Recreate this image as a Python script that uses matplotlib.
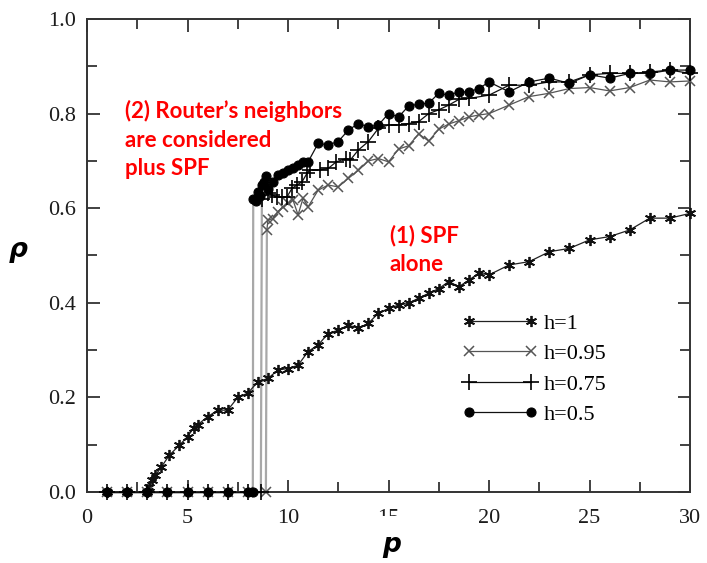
import matplotlib
matplotlib.use("Agg")
import matplotlib.pyplot as plt
from matplotlib.patches import Rectangle
from matplotlib.ticker import MultipleLocator
import numpy as np

# ---------------- data ----------------
x_h1 = [1, 2, 3, 3.1, 3.25, 3.4, 3.7, 4.1, 4.6, 5.0, 5.3, 5.5, 6.0, 6.5, 7.0, 7.5, 8.0, 8.5,
        9.0, 9.5, 10, 10.5, 11, 11.5, 12, 12.5, 13, 13.5, 14, 14.5, 15, 15.5, 16, 16.5, 17,
        17.5, 18, 18.5, 19, 19.5, 20, 21, 22, 23, 24, 25, 26, 27, 28, 29, 30]
y_h1 = [0, 0, 0, 0.011, 0.025, 0.035, 0.053, 0.078, 0.099, 0.117, 0.135, 0.142, 0.159, 0.173,
        0.173, 0.200, 0.209, 0.233, 0.240, 0.258, 0.261, 0.268, 0.297, 0.311, 0.335, 0.342,
        0.353, 0.346, 0.357, 0.378, 0.388, 0.395, 0.399, 0.410, 0.420, 0.430, 0.445, 0.434,
        0.448, 0.463, 0.459, 0.480, 0.487, 0.508, 0.515, 0.533, 0.540, 0.554, 0.579, 0.579, 0.589]

x_h095 = [1, 2, 3, 4, 5, 6, 7, 8, 8.9, 8.95, 9.0, 9.25, 9.5, 9.75, 10.0, 10.25, 10.5, 10.75,
          11.0, 11.5, 12.0, 12.5, 13.0, 13.5, 14.0, 14.5, 15.0, 15.5, 16.0, 16.5, 17.0, 17.5,
          18.0, 18.5, 19.0, 19.5, 20, 21, 22, 23, 24, 25, 26, 27, 28, 29, 30]
y_h095 = [0, 0, 0, 0, 0, 0, 0, 0, 0, 0.554, 0.575, 0.578, 0.593, 0.603, 0.610, 0.617, 0.586,
          0.621, 0.603, 0.638, 0.649, 0.645, 0.663, 0.680, 0.700, 0.705, 0.698, 0.725, 0.732,
          0.757, 0.742, 0.767, 0.778, 0.785, 0.793, 0.797, 0.800, 0.818, 0.836, 0.843, 0.853,
          0.855, 0.848, 0.855, 0.871, 0.867, 0.869]

x_h075 = [1, 2, 3, 4, 5, 6, 7, 8, 8.65, 8.7, 9.0, 9.2, 9.45, 9.7, 9.95, 10.2, 10.45, 10.7,
          10.95, 11.1, 11.6, 12.0, 12.4, 12.9, 13.1, 13.5, 14.0, 14.5, 15.0, 15.5, 16.0, 16.5,
          17.0, 17.5, 18.0, 18.5, 19.0, 20, 21, 22, 23, 24, 25, 26, 27, 28, 29, 30]
y_h075 = [0, 0, 0, 0, 0, 0, 0, 0, 0, 0.620, 0.632, 0.628, 0.624, 0.624, 0.624, 0.642, 0.649,
          0.656, 0.674, 0.681, 0.681, 0.684, 0.698, 0.705, 0.702, 0.723, 0.741, 0.769, 0.776,
          0.776, 0.779, 0.783, 0.800, 0.808, 0.818, 0.830, 0.832, 0.839, 0.860, 0.860, 0.867,
          0.867, 0.882, 0.885, 0.885, 0.888, 0.892, 0.885]

x_h05 = [1, 2, 3, 4, 5, 6, 7, 8, 8.25, 8.27, 8.4, 8.5, 8.6, 8.7, 8.8, 8.9, 9.0, 9.25, 9.5,
         9.75, 10.0, 10.25, 10.5, 10.75, 11.0, 11.5, 12.0, 12.5, 13.0, 13.5, 14.0, 14.5, 15.0,
         15.5, 16.0, 16.5, 17.0, 17.5, 18.0, 18.5, 19.0, 19.5, 20, 21, 22, 23, 24, 25, 26, 27,
         28, 29, 30]
y_h05 = [0, 0, 0, 0, 0, 0, 0, 0, 0, 0.619, 0.615, 0.635, 0.625, 0.648, 0.655, 0.668, 0.640,
         0.655, 0.670, 0.674, 0.681, 0.684, 0.691, 0.698, 0.698, 0.737, 0.734, 0.741, 0.765,
         0.779, 0.772, 0.776, 0.800, 0.793, 0.816, 0.820, 0.822, 0.843, 0.839, 0.846, 0.846,
         0.853, 0.867, 0.846, 0.867, 0.875, 0.864, 0.882, 0.875, 0.885, 0.885, 0.892, 0.892]

labels = ["h=1", "h=0.95", "h=0.75", "h=0.5"]
x_ticks = [0, 5, 10, 15, 20, 25, 30]
y_ticks = [0.0, 0.2, 0.4, 0.6, 0.8, 1.0]
ann2 = "(2) Router\u2019s neighbors\nare considered\nplus SPF"
ann1 = "(1) SPF\nalone"

# ---------------- figure ----------------
W, H = 707, 563
fig = plt.figure(figsize=(W / 100, H / 100), dpi=100)
ax = fig.add_axes([87 / W, 1 - 492 / H, (690 - 87) / W, (492 - 19) / H])

serif = "Liberation Serif"
sans_bold = "Lato"

def draw_series(x, y, marker, ms, mew, mcol, lcol, label, mfc=None):
    x = np.asarray(x, float)
    y = np.asarray(y, float)
    nz = np.nonzero(y > 0)[0]
    if label != "h=1" and len(nz):
        j = nz[0]
        ax.plot(x[j - 1:j + 1], y[j - 1:j + 1], color="#a8a8a8", lw=1.6, zorder=2, clip_on=False)
        ax.plot(x[:j], y[:j], color=lcol, lw=0.9, zorder=3, clip_on=False)
        ax.plot(x[j:], y[j:], color=lcol, lw=0.9, zorder=3, clip_on=False)
    else:
        ax.plot(x, y, color=lcol, lw=0.9, zorder=3, clip_on=False)
    ax.plot(x, y, linestyle="none", marker=marker, ms=ms, mew=mew, mec=mcol,
            mfc=mfc if mfc else mcol, zorder=4, clip_on=False)
    return ax.plot([], [], color=lcol, lw=0.9, marker=marker, ms=ms, mew=mew, mec=mcol,
                   mfc=mfc if mfc else mcol, label=label)[0]

h1 = draw_series(x_h1, y_h1, (6, 2, 0), 8, 1.3, "#111111", "#222222", labels[0])
h2 = draw_series(x_h095, y_h095, "x", 7, 1.1, "#555555", "#555555", labels[1])
h3 = draw_series(x_h075, y_h075, "+", 11, 1.2, "#000000", "#111111", labels[2])
h4 = draw_series(x_h05, y_h05, "o", 6.5, 0.8, "#000000", "#111111", labels[3])

ax.set_xlim(0, 30)
ax.set_ylim(0, 1.0)
ax.set_xticks(x_ticks)
ax.set_yticks(y_ticks)
ax.set_xticklabels([str(t) for t in x_ticks])
ax.set_yticklabels([f"{t:.1f}" for t in y_ticks])
ax.xaxis.set_minor_locator(MultipleLocator(2.5))
ax.yaxis.set_minor_locator(MultipleLocator(0.1))
ax.tick_params(which="both", direction="in", top=True, right=True, color="#333333", width=1.3)
ax.tick_params(which="major", length=9, labelsize=16, labelcolor="#1c1c1c")
ax.tick_params(axis="x", which="major", pad=12)
ax.tick_params(axis="y", which="major", pad=8)
ax.tick_params(which="minor", length=7)
for lab in ax.get_xticklabels() + ax.get_yticklabels():
    lab.set_fontfamily(serif)
for s in ax.spines.values():
    s.set_color("#333333")
    s.set_linewidth(1.4)

leg = ax.legend(handles=[h1, h2, h3, h4], loc="upper left",
                bbox_to_anchor=((462 - 87) / 603, (492 - 313) / 473),
                frameon=False, numpoints=2, handlelength=3.4, handletextpad=0.3,
                labelspacing=0.45, borderpad=0, borderaxespad=0,
                prop={"family": serif, "size": 16})

# annotations
ax.text((125 - 87) / 603, (492 - 100) / 473, ann2, transform=ax.transAxes, color="#ff0000",
        fontsize=16, fontweight="bold", family=sans_bold, va="top", ha="left",
        linespacing=1.45)
ax.text((390 - 87) / 603, (492 - 225) / 473, ann1, transform=ax.transAxes, color="#ff0000",
        fontsize=16, fontweight="bold", family=sans_bold, va="top", ha="left",
        linespacing=1.45)

# axis labels (with the white cover over the lower part of the "15" label, as in the reference)
fig.patches.append(Rectangle((370 / W, 1 - 562 / H), 44 / W, 46 / H, transform=fig.transFigure,
                             facecolor="white", edgecolor="none", zorder=1))
fig.text(392 / W, 1 - 545 / H, "p", fontsize=19, fontweight="bold", fontstyle="italic",
         family="DejaVu Sans", ha="center", va="center", zorder=2)
fig.text(18 / W, 1 - 250 / H, "\u03c1", fontsize=19, fontweight="bold", fontstyle="italic",
         family="DejaVu Sans", ha="center", va="center", zorder=2)

fig.savefig("out.png", dpi=100, facecolor="white")
